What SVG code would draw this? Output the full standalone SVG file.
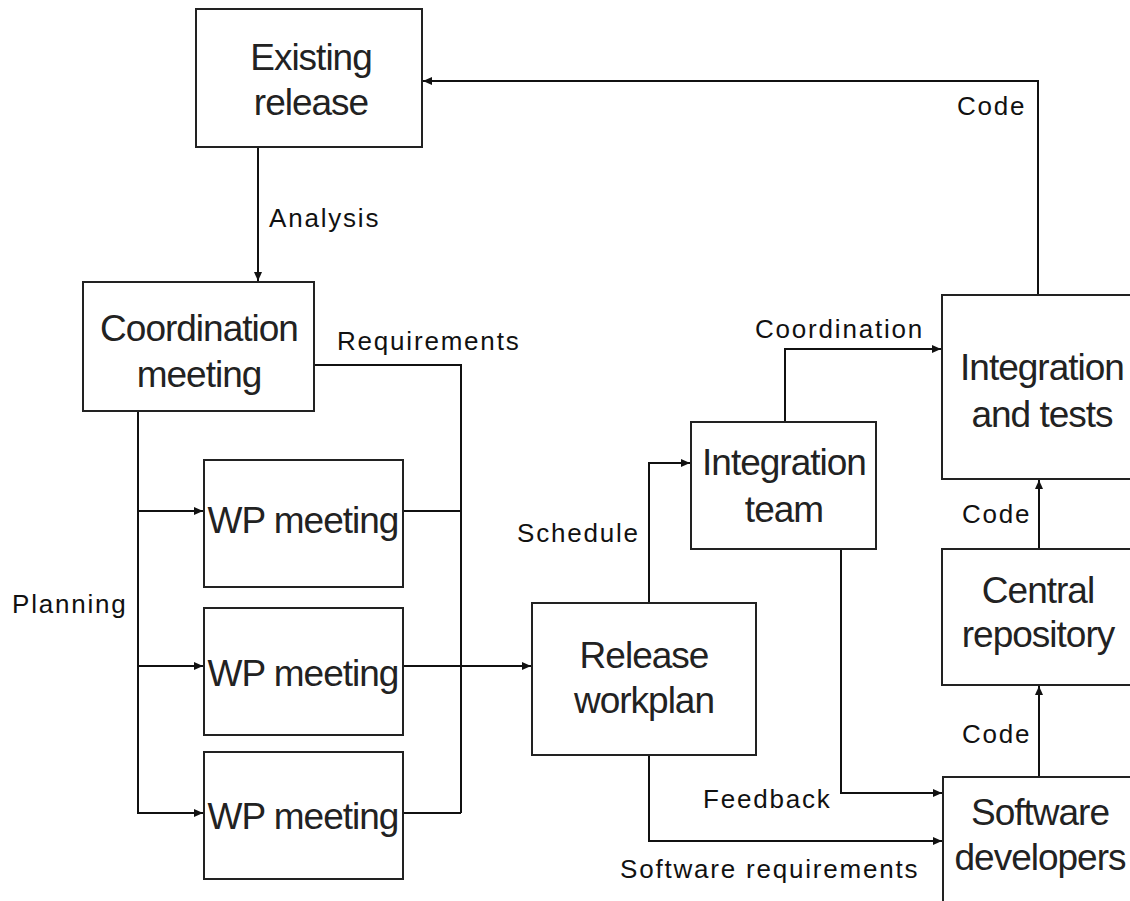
<svg xmlns="http://www.w3.org/2000/svg" width="1130" height="901" viewBox="0 0 1130 901">
<style>
.box{fill:#fff;stroke:#222;stroke-width:2}
.n{font-family:"Liberation Sans",Arial,sans-serif;font-size:37px;letter-spacing:-1px;fill:#222;text-anchor:middle}
.l{font-family:"Liberation Sans",Arial,sans-serif;font-size:26px;letter-spacing:1.8px;fill:#111}
.c{fill:none;stroke:#111;stroke-width:2}
</style>
<defs>
<marker id="ah" markerUnits="userSpaceOnUse" markerWidth="10" markerHeight="10" refX="9" refY="5" orient="auto">
<path d="M0,1 L9,5 L0,9 z" fill="#111"/>
</marker>
</defs>
<rect width="1130" height="901" fill="#fff"/>
<g id="connectors">
<path class="c" d="M258,147 V281" marker-end="url(#ah)"/>
<path class="c" d="M1038,295 V81 H423" marker-end="url(#ah)"/>
<path class="c" d="M314,365 H461 V813"/>
<path class="c" d="M403,511 H461"/>
<path class="c" d="M403,813 H461"/>
<path class="c" d="M403,666 H531" marker-end="url(#ah)"/>
<path class="c" d="M138,411 V813 H203" marker-end="url(#ah)"/>
<path class="c" d="M138,511 H203" marker-end="url(#ah)"/>
<path class="c" d="M138,666 H203" marker-end="url(#ah)"/>
<path class="c" d="M649,603 V463 H690" marker-end="url(#ah)"/>
<path class="c" d="M785,422 V349 H941" marker-end="url(#ah)"/>
<path class="c" d="M841,549 V793 H942" marker-end="url(#ah)"/>
<path class="c" d="M649,755 V841 H942" marker-end="url(#ah)"/>
<path class="c" d="M1039,549 V480" marker-end="url(#ah)"/>
<path class="c" d="M1039,777 V686" marker-end="url(#ah)"/>
<text class="l" x="269" y="227">Analysis</text>
<text class="l" x="337" y="350">Requirements</text>
<text class="l" x="12" y="613">Planning</text>
<text class="l" x="517" y="542">Schedule</text>
<text class="l" x="755" y="338">Coordination</text>
<text class="l" x="957" y="115">Code</text>
<text class="l" x="962" y="523">Code</text>
<text class="l" x="962" y="743">Code</text>
<text class="l" x="703" y="808">Feedback</text>
<text class="l" x="620" y="878">Software requirements</text>
</g>
<g id="existing-release">
<rect class="box" x="196" y="9" width="226" height="138"/>
<text class="n" x="311" y="70">Existing</text>
<text class="n" x="311" y="115">release</text>
</g>
<g id="coordination-meeting">
<rect class="box" x="83" y="282" width="231" height="129"/>
<text class="n" x="199" y="341">Coordination</text>
<text class="n" x="199" y="387">meeting</text>
</g>
<g id="wp-meeting-1">
<rect class="box" x="204" y="460" width="199" height="127"/>
<text class="n" x="303" y="533">WP meeting</text>
</g>
<g id="wp-meeting-2">
<rect class="box" x="204" y="608" width="199" height="127"/>
<text class="n" x="303" y="686">WP meeting</text>
</g>
<g id="wp-meeting-3">
<rect class="box" x="204" y="752" width="199" height="127"/>
<text class="n" x="303" y="829">WP meeting</text>
</g>
<g id="release-workplan">
<rect class="box" x="532" y="603" width="224" height="152"/>
<text class="n" x="644" y="668">Release</text>
<text class="n" x="644" y="713">workplan</text>
</g>
<g id="integration-team">
<rect class="box" x="691" y="422" width="185" height="127"/>
<text class="n" x="784" y="475">Integration</text>
<text class="n" x="784" y="522">team</text>
</g>
<g id="integration-and-tests">
<rect class="box" x="942" y="295" width="200" height="184"/>
<text class="n" x="1042" y="380">Integration</text>
<text class="n" x="1042" y="427">and tests</text>
</g>
<g id="central-repository">
<rect class="box" x="942" y="549" width="200" height="136"/>
<text class="n" x="1038" y="603">Central</text>
<text class="n" x="1038" y="647">repository</text>
</g>
<g id="software-developers">
<rect class="box" x="943" y="777" width="200" height="140"/>
<text class="n" x="1040" y="825">Software</text>
<text class="n" x="1040" y="870">developers</text>
</g>
</svg>
